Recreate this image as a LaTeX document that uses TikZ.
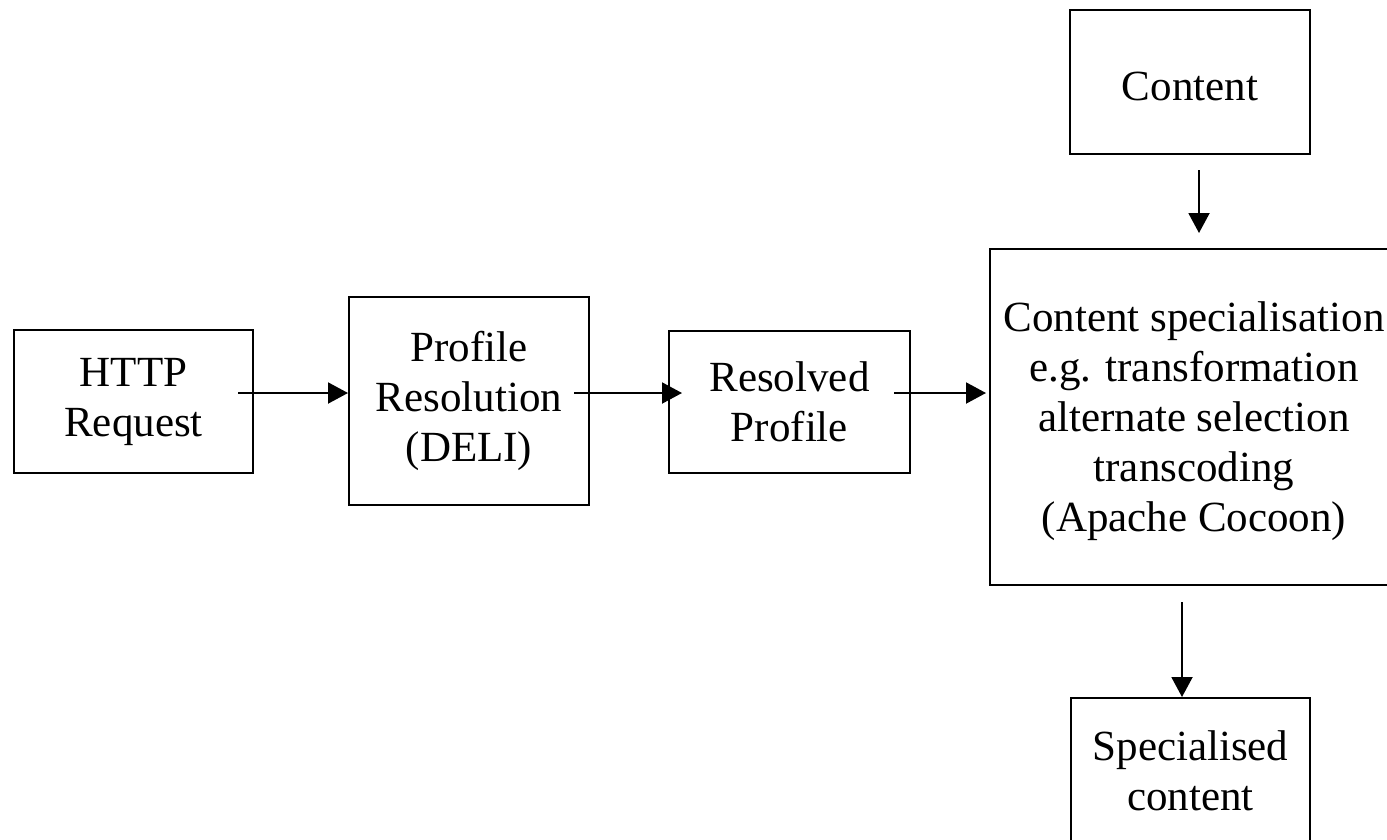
\documentclass[tikz,border=0pt]{standalone}
\usepackage{fontspec}
\setmainfont{Liberation Serif}
\usetikzlibrary{arrows.meta}
\begin{document}
\begin{tikzpicture}[x=1pt,y=1pt,
  box/.style={draw=black, line width=2pt, align=center, inner sep=0pt,
    font=\fontsize{43}{50}\selectfont},
  arr/.style={draw=black, line width=2pt, -{Triangle[length=20pt,width=21pt]}}]
\clip (0,0) rectangle (1387,-839);
\fill[white] (0,0) rectangle (1387,-839);
\node[box, minimum width=239, minimum height=143] (http) at (133.5,-401.5) {HTTP\\Request};
\node[box, minimum width=240, minimum height=208] (prof) at (469,-401) {Profile\\Resolution\\(DELI)};
\node[box, minimum width=241, minimum height=142] (res) at (789.5,-402) {Resolved\\Profile};
\node[box, minimum width=240, minimum height=144] (cont) at (1190,-82) {\rule{0pt}{38pt}Content};
\node[box, minimum width=408, minimum height=336] (spec) at (1194,-417) {\rule{0pt}{38pt}Content specialisation\\e.g. transformation\\alternate selection\\transcoding\\(Apache Cocoon)};
\node[box, minimum width=239, minimum height=145] (out) at (1190.5,-770.5) {Specialised\\content};
\coordinate (row) at (0,-393);
\coordinate (colA) at (1199,0);
\coordinate (colB) at (1182,0);
\draw[arr] ([xshift=-16pt]http.east |- row) -- (prof.west |- row);
\draw[arr] ([xshift=-16pt]prof.east |- row) -- ([xshift=14pt]res.west |- row);
\draw[arr] ([xshift=-17pt]res.east |- row) -- ([xshift=-3pt]spec.west |- row);
\draw[arr] ([yshift=-15pt]colA |- cont.south) -- ([yshift=15pt]colA |- spec.north);
\draw[arr] ([yshift=-16pt]colB |- spec.south) -- (colB |- out.north);
\end{tikzpicture}
\end{document}
